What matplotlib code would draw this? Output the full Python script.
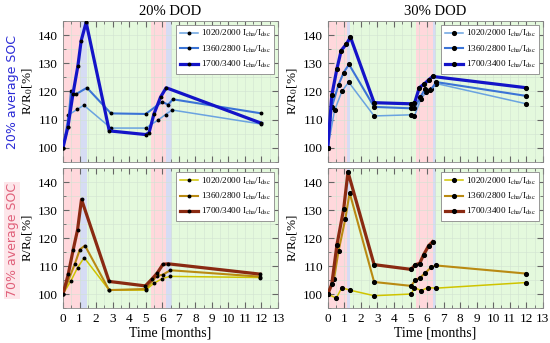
import matplotlib
matplotlib.use("Agg")
import matplotlib.pyplot as plt
import matplotlib.ticker as ticker

# ---- data ----
labels = ["1020/2000 I$_{\\rm cha}$/I$_{\\rm dsc}$",
          "1360/2800 I$_{\\rm cha}$/I$_{\\rm dsc}$",
          "1700/3400 I$_{\\rm cha}$/I$_{\\rm dsc}$"]

# 20% SOC, 20% DOD
t_a1 = [0, 0.32, 0.85, 1.26, 2.9, 5.0, 5.74, 6.2, 6.6, 12.0]
r_a1 = [100, 111.6, 113.6, 115.1, 107.0, 107.0, 109.8, 111.8, 113.4, 108.4]
t_a2 = [0, 0.3, 0.48, 0.78, 1.45, 2.9, 5.0, 6.0, 6.35, 6.65, 12.0]
r_a2 = [100, 107.3, 120.0, 119.0, 121.3, 112.2, 112.0, 116.3, 115.3, 117.2, 112.2]
t_a3 = [0, 0.3, 0.6, 0.9, 1.1, 1.4, 2.8, 5.0, 5.2, 5.5, 5.9, 6.24, 12.0]
r_a3 = [100, 107.5, 119.0, 129.0, 138.0, 144.5, 106.0, 104.7, 105.3, 112.0, 118.0, 121.3, 108.7]

# 20% SOC, 30% DOD
t_b1 = [0, 0.41, 0.85, 1.26, 2.8, 5.04, 5.24, 5.63, 5.96, 6.25, 6.56, 12.0]
r_b1 = [100, 113.3, 120.0, 123.3, 111.3, 111.7, 111.3, 117.4, 119.8, 120.8, 122.8, 115.6]
t_b2 = [0, 0.24, 0.65, 0.96, 1.28, 2.8, 5.04, 5.24, 5.59, 5.9, 6.2, 6.56, 12.0]
r_b2 = [100, 114.5, 122.4, 126.7, 129.6, 114.5, 114.0, 114.2, 118.0, 121.0, 120.4, 123.3, 118.4]
t_b3 = [0, 0.24, 0.55, 0.81, 1.12, 1.37, 2.8, 5.04, 5.24, 5.53, 5.84, 6.1, 6.34, 12.0]
r_b3 = [100, 118.6, 128.0, 134.5, 136.8, 139.2, 116.0, 115.6, 115.8, 121.3, 122.7, 124.1, 125.3, 121.3]

# 70% SOC, 20% DOD
t_c1 = [0, 0.48, 0.88, 1.28, 2.79, 5.0, 5.48, 6.0, 6.45, 11.93]
r_c1 = [100, 104.7, 109.4, 113.0, 101.4, 101.4, 103.8, 105.5, 106.3, 105.9]
t_c2 = [0, 0.72, 1.02, 1.33, 2.79, 5.0, 5.68, 6.04, 6.49, 11.93]
r_c2 = [100, 110.8, 115.9, 117.3, 101.4, 101.8, 106.5, 106.9, 108.5, 106.2]
t_c3 = [0, 0.32, 0.62, 0.88, 1.12, 2.79, 4.98, 5.4, 5.7, 6.04, 6.35, 11.93]
r_c3 = [100, 107.1, 115.9, 122.9, 133.8, 104.5, 102.9, 105.5, 107.5, 110.6, 110.8, 107.1]

# 70% SOC, 30% DOD
t_d1 = [0, 0.51, 0.85, 1.32, 2.8, 5.04, 5.24, 5.65, 6.04, 6.55, 12.0]
r_d1 = [100, 98.5, 102.3, 101.4, 99.4, 100.0, 102.3, 101.2, 102.3, 102.1, 104.1]
t_d2 = [0, 0.37, 0.65, 1.06, 1.32, 2.8, 5.04, 5.29, 5.59, 5.9, 6.26, 6.55, 12.0]
r_d2 = [100, 105.3, 115.4, 126.9, 136.2, 104.3, 102.9, 105.0, 105.9, 107.6, 109.6, 110.2, 107.3]
t_d3 = [0, 0.24, 0.55, 0.96, 1.22, 2.8, 5.04, 5.29, 5.55, 5.79, 6.1, 6.34]
r_d3 = [100, 103.5, 117.5, 130.4, 143.6, 110.5, 108.8, 110.5, 110.9, 114.0, 117.3, 118.7]

# shaded periods (start, end) in months
pink_a = [(0, 1.05), (5.35, 6.2)]
blue_a = [(1.05, 1.45), (6.2, 6.6)]
pink_b = [(0, 1.16), (5.33, 6.34)]
blue_b = [(1.16, 1.36), (6.34, 6.56)]

blues = ["#6aa3e0", "#3b74d6", "#1414c8"]
warms = ["#cfc400", "#b98a12", "#8a2a12"]
widths = [1.1, 1.5, 2.3]

plt.rcParams["font.family"] = ["Liberation Serif", "DejaVu Serif"]
plt.rcParams["mathtext.fontset"] = "stix"

fig = plt.figure(figsize=(5.5, 3.43), dpi=100)
L1, L2, W = 0.1145, 0.596, 0.391
ax_a = fig.add_axes([L1, 0.528, W, 0.411])
ax_b = fig.add_axes([L2, 0.528, W, 0.411])
ax_c = fig.add_axes([L1, 0.102, W, 0.408])
ax_d = fig.add_axes([L2, 0.102, W, 0.408])

panels = [
    (ax_a, [(t_a1, r_a1), (t_a2, r_a2), (t_a3, r_a3)], blues, pink_a, blue_a, 1.8),
    (ax_b, [(t_b1, r_b1), (t_b2, r_b2), (t_b3, r_b3)], blues, pink_b, blue_b, 2.7),
    (ax_c, [(t_c1, r_c1), (t_c2, r_c2), (t_c3, r_c3)], warms, pink_a, blue_a, 1.8),
    (ax_d, [(t_d1, r_d1), (t_d2, r_d2), (t_d3, r_d3)], warms, pink_b, blue_b, 2.7),
]

for ax, series, cols, pinks, lblues, ms in panels:
    ax.set_facecolor("#e4f9dd")
    for a, b in pinks:
        ax.axvspan(a, b, color="#ffd8dc", lw=0, zorder=0)
    for a, b in lblues:
        ax.axvspan(a, b, color="#d6dcf4", lw=0, zorder=0)
    for (t, r), c, lw, lab in zip(series, cols, widths, labels):
        ax.plot(t, r, color=c, lw=lw, marker="o", ms=ms, mfc="k", mec="k",
                label=lab, zorder=3)
    ax.set_xlim(0, 13)
    ax.set_ylim(95, 145)
    ax.xaxis.set_major_locator(ticker.MultipleLocator(1))
    ax.xaxis.set_minor_locator(ticker.MultipleLocator(0.5))
    ax.yaxis.set_major_locator(ticker.MultipleLocator(10))
    ax.yaxis.set_minor_locator(ticker.MultipleLocator(5))
    ax.tick_params(which="both", direction="in", top=True, right=True, labelsize=9.5,
                   color="#666666")
    ax.tick_params(which="major", length=4)
    ax.tick_params(which="minor", length=2)
    ax.grid(which="both", color="#d2e2d2", lw=0.4, zorder=1)
    ax.set_axisbelow(True)
    for s in ax.spines.values():
        s.set_color("#888888")
        s.set_linewidth(0.6)
    ax.set_ylabel("R/R$_0$[%]", fontsize=9.5, labelpad=2)
    leg = ax.legend(loc="upper right", fontsize=6.6, handlelength=2.0,
                    borderpad=0.4, labelspacing=0.45, handletextpad=0.3,
                    borderaxespad=0.4, fancybox=False, edgecolor="#888888",
                    framealpha=1)
    leg.get_frame().set_linewidth(0.6)

for ax in (ax_a, ax_b):
    ax.set_xticklabels([])
for ax in (ax_c, ax_d):
    ax.set_xlabel("Time [months]", fontsize=10, labelpad=1)

ax_a.set_title("20% DOD", fontsize=10.5, pad=4)
ax_b.set_title("30% DOD", fontsize=10.5, pad=4)

fig.text(0.022, 0.733, "20% average SOC", rotation=90, ha="center", va="center",
         fontsize=9, color="#2a2ad6", family=["DejaVu Sans"])
fig.text(0.022, 0.300, "70% average SOC", rotation=90, ha="center", va="center",
         fontsize=9, color="#e0607a", family=["DejaVu Sans"],
         bbox=dict(facecolor="#fde6ea", edgecolor="none", pad=1))

fig.savefig("out.png", dpi=100)
